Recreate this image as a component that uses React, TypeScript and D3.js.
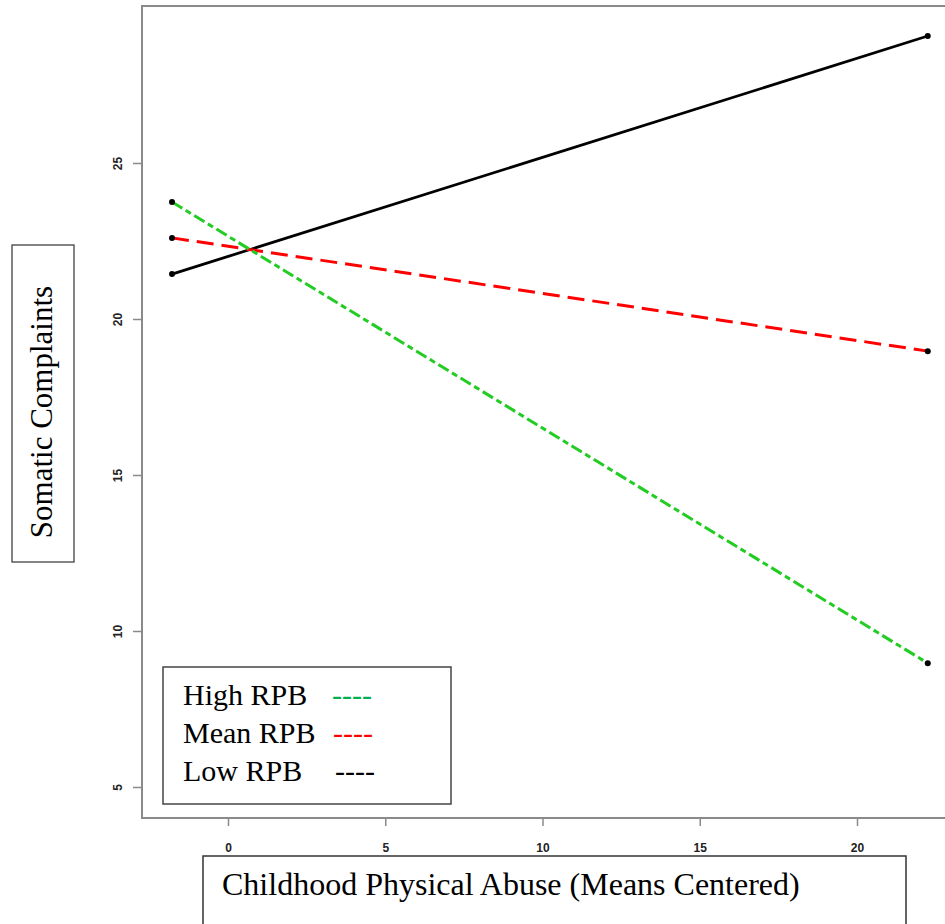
import React, { useEffect, useRef } from "react";
import * as d3 from "d3";

// values
const xEnds = [-1.78, 22.25];
const highRPB = [23.75, 8.97];
const meanRPB = [22.6, 18.97];
const lowRPB = [21.44, 29.07];
const xTicks = [0, 5, 10, 15, 20];
const yTicks = [5, 10, 15, 20, 25];
const legendNames = ["High RPB", "Mean RPB", "Low RPB"];
const legendColors = ["#00b050", "#ff0000", "#000000"];

const width = 945;
const height = 924;

export default function App() {
  const ref = useRef<SVGSVGElement | null>(null);

  useEffect(() => {
    const svg = d3.select(ref.current);
    svg.selectAll("*").remove();

    const x = d3.scaleLinear().domain([0, 20]).range([228, 857]);
    const y = d3.scaleLinear().domain([5, 25]).range([787, 163]);
    const frame = { left: 142, top: 6, bottom: 818, right: 960 };
    const grey = "#8a8a8a";

    // plot box
    svg
      .append("path")
      .attr("d", `M${frame.right},${frame.top}H${frame.left}V${frame.bottom}H${frame.right}`)
      .attr("fill", "none")
      .attr("stroke", grey)
      .attr("stroke-width", 2);

    // y axis
    const yAxis = svg.append("g").attr("transform", `translate(${frame.left},0)`);
    yAxis.call(d3.axisLeft(y).tickValues(yTicks).tickSize(9).tickFormat(d3.format("d")));
    yAxis.select(".domain").remove();
    yAxis.selectAll(".tick line").attr("stroke", grey).attr("stroke-width", 1.5);
    yAxis
      .selectAll(".tick text")
      .attr("x", null)
      .attr("dy", null)
      .attr("transform", "translate(-24,0) rotate(-90)")
      .attr("text-anchor", "middle")
      .attr("dominant-baseline", "central")
      .style("font-family", "'Liberation Sans', Arial, sans-serif")
      .style("font-weight", "bold")
      .style("font-size", "12px")
      .attr("fill", "#222");

    // x axis
    const xAxis = svg.append("g").attr("transform", `translate(0,${frame.bottom})`);
    xAxis.call(d3.axisBottom(x).tickValues(xTicks).tickSize(8).tickFormat(d3.format("d")));
    xAxis.select(".domain").remove();
    xAxis.selectAll(".tick line").attr("stroke", grey).attr("stroke-width", 1.5);
    xAxis
      .selectAll(".tick text")
      .attr("y", 30)
      .attr("dy", "0.35em")
      .style("font-family", "'Liberation Sans', Arial, sans-serif")
      .style("font-weight", "bold")
      .style("font-size", "12px")
      .attr("fill", "#222");

    // lines
    const series = [
      { vals: lowRPB, color: "#000000", dash: null, w: 2.8 },
      { vals: meanRPB, color: "#ff0000", dash: "17,8", w: 3 },
      { vals: highRPB, color: "#22cc22", dash: "12,4,6,4", w: 3 },
    ];
    const line = d3
      .line<number>()
      .x((_, i) => x(xEnds[i]))
      .y((d) => y(d));
    series.forEach((s) => {
      svg
        .append("path")
        .attr("d", line(s.vals))
        .attr("fill", "none")
        .attr("stroke", s.color)
        .attr("stroke-width", s.w)
        .attr("stroke-dasharray", s.dash);
    });
    series.forEach((s) => {
      svg
        .selectAll(null)
        .data(s.vals)
        .enter()
        .append("circle")
        .attr("cx", (_, i) => x(xEnds[i]))
        .attr("cy", (d) => y(d))
        .attr("r", 3)
        .attr("fill", "#000");
    });

    // legend
    const lg = svg.append("g");
    lg.append("rect")
      .attr("x", 163)
      .attr("y", 667)
      .attr("width", 288)
      .attr("height", 137)
      .attr("fill", "#fff")
      .attr("stroke", "#444")
      .attr("stroke-width", 1.5);
    legendNames.forEach((name, i) => {
      lg.append("text")
        .attr("x", 183)
        .attr("y", 705 + i * 38)
        .style("font-family", "'Liberation Serif', 'Times New Roman', serif")
        .style("font-size", "30px")
        .attr("fill", "#000")
        .text(name);
      lg.append("text")
        .attr("x", [332, 333, 335][i])
        .attr("y", 705 + i * 38)
        .style("font-family", "'Liberation Serif', 'Times New Roman', serif")
        .style("font-size", "30px")
        .attr("fill", legendColors[i])
        .text("----");
    });

    // y title box
    svg
      .append("rect")
      .attr("x", 12)
      .attr("y", 245)
      .attr("width", 62)
      .attr("height", 317)
      .attr("fill", "#fff")
      .attr("stroke", "#333")
      .attr("stroke-width", 1.2);
    svg
      .append("text")
      .attr("transform", "translate(52,412) rotate(-90)")
      .attr("text-anchor", "middle")
      .style("font-family", "'Liberation Serif', 'Times New Roman', serif")
      .style("font-size", "31px")
      .attr("fill", "#000")
      .text("Somatic Complaints");

    // x title box
    svg
      .append("rect")
      .attr("x", 203)
      .attr("y", 856)
      .attr("width", 703)
      .attr("height", 90)
      .attr("fill", "#fff")
      .attr("stroke", "#333")
      .attr("stroke-width", 1.5);
    svg
      .append("text")
      .attr("x", 222)
      .attr("y", 895)
      .style("font-family", "'Liberation Serif', 'Times New Roman', serif")
      .style("font-size", "32px")
      .attr("fill", "#000")
      .text("Childhood Physical Abuse (Means Centered)");
  }, []);

  return (
    <svg
      ref={ref}
      width={width}
      height={height}
      style={{ position: "absolute", left: 0, top: 0, background: "#fff" }}
    />
  );
}
